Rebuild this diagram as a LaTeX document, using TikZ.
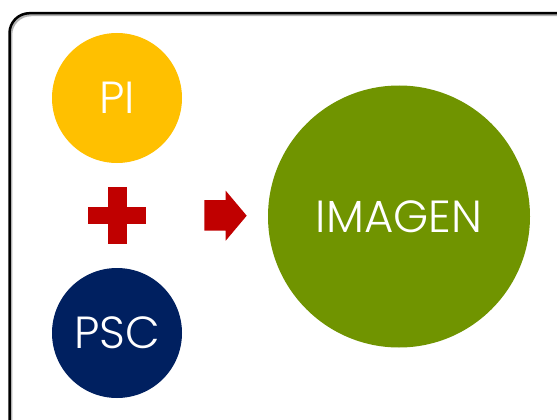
\documentclass[tikz,border=0pt]{standalone}
\usepackage{fontspec}
\setmainfont{Poppins}[UprightFont=* Light]
\definecolor{piyellow}{RGB}{255,192,0}
\definecolor{pscnavy}{RGB}{0,32,96}
\definecolor{imggreen}{RGB}{112,148,0}
\definecolor{signred}{RGB}{192,0,0}
\tikzset{
  disc/.style={circle, inner sep=0pt, text=white, font=\fontsize{45}{45}\selectfont},
  sign/.style={fill=signred, draw=none},
}
\begin{document}
\begin{tikzpicture}[x=1pt, y=-1pt]
  \useasboundingbox (0,0) rectangle (557,420);
  \fill[white] (0,0) rectangle (557,420);
  % frame with a light drop shadow
  \draw[gray!60, line width=2.5pt, rounded corners=20pt] (11,15) rectangle (620,480);
  \draw[black, line width=2.5pt, rounded corners=20pt] (9.5,13.2) rectangle (618,478);
  % the three discs
  \node[disc, fill=piyellow, minimum size=130pt] (pi) at (117,98) {PI};
  \node[disc, fill=pscnavy, minimum size=130pt] (psc) at (117,333) {PSC};
  \node[disc, fill=imggreen, minimum size=262pt] (img) at (399,216.5) {IMAGEN};
  % plus sign
  \fill[sign] (107.7,186.7) rectangle (126.7,244);
  \fill[sign] (88.3,206.7) rectangle (146,224.3);
  % block arrow
  \fill[sign] (204.3,200) -- (225.7,200) -- (225.7,190.7) -- (246.7,215.7)
    -- (225.7,240.7) -- (225.7,230.7) -- (204.3,230.7) -- cycle;
\end{tikzpicture}
\end{document}
